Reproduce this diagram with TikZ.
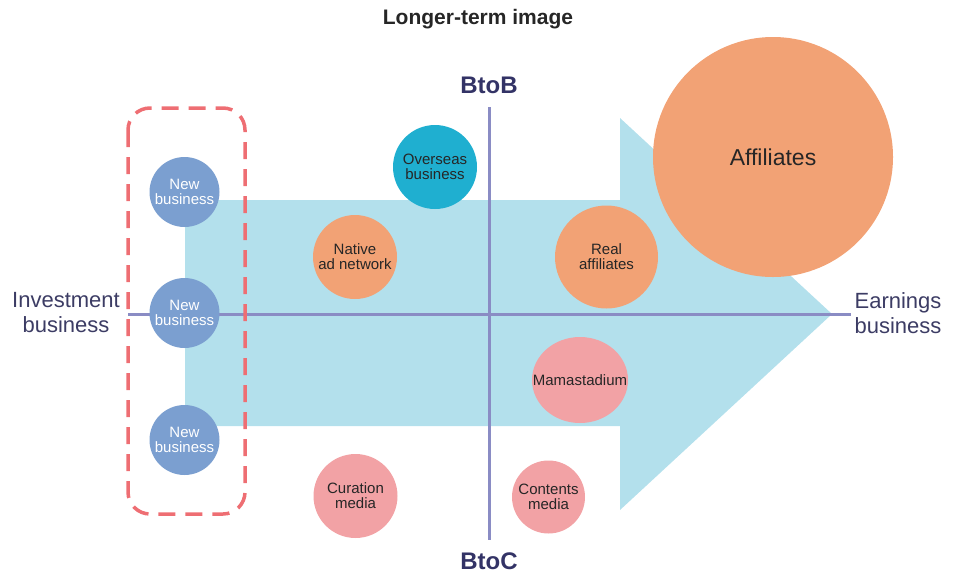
\documentclass[tikz,border=0pt]{standalone}
\usepackage{fontspec}
\setmainfont{Liberation Sans}
\usetikzlibrary{shapes.geometric}
\definecolor{arrowblue}{HTML}{B3E0EC}
\definecolor{axiscol}{HTML}{8A8CC4}
\definecolor{newblue}{HTML}{7B9FD0}
\definecolor{teal}{HTML}{1FAFD0}
\definecolor{orange}{HTML}{F2A275}
\definecolor{pink}{HTML}{F2A2A5}
\definecolor{dashred}{HTML}{EE6E73}
\definecolor{labelcol}{HTML}{3C3C64}
\definecolor{headcol}{HTML}{333366}
\tikzset{
  bubble/.style={circle, inner sep=0pt, align=center, font=\fontsize{15}{15}\selectfont, text=black!85},
  newbiz/.style={bubble, fill=newblue, minimum size=70pt, text=white},
  sidelabel/.style={align=center, font=\fontsize{22}{25}\selectfont, text=labelcol},
  axislabel/.style={font=\fontsize{24}{25}\selectfont\bfseries, text=headcol},
  axisline/.style={draw=axiscol, line width=3pt}
}
\begin{document}
\begin{tikzpicture}[x=1pt,y=-1pt]
\useasboundingbox (0,0) rectangle (958,574);
% big arrow
\fill[arrowblue] (185,200) -- (620,200) -- (620,118) -- (832,314) -- (620,510) -- (620,426) -- (185,426) -- cycle;
% axes
\coordinate (hl) at (128,314);
\coordinate (hr) at (851,314);
\coordinate (vt) at (489,107);
\coordinate (vb) at (489,540);
\draw[axisline] (hl) -- (hr);
\draw[axisline] (vt) -- (vb);
% labels
\node[font=\fontsize{21}{22}\selectfont\bfseries, text=black!85] (title) at (478,19) {Longer-term image};
\node[axislabel] (btob) at (489,85) {BtoB};
\node[axislabel] (btoc) at (489,561) {BtoC};
\node[sidelabel] (inv) at (66,313) {Investment\\business};
\node[sidelabel] (earn) at (898,313) {Earnings\\business};
% new business bubbles
\node[newbiz] (nb1) at (184.5,192) {New\\business};
\node[newbiz] (nb2) at (184.5,313) {New\\business};
\node[newbiz] (nb3) at (184.5,440) {New\\business};
% dashed frame
\draw[dashred, line width=3.5pt, dash pattern=on 17pt off 10pt, rounded corners=22pt] (128,108) rectangle (245,514);
% other bubbles
\node[bubble, fill=teal, minimum size=84pt] (ovs) at (435,167) {Overseas\\business};
\node[bubble, fill=orange, minimum size=84pt] (nat) at (355,257) {Native\\ad network};
\node[bubble, fill=orange, minimum size=103pt] (real) at (606.5,257) {Real\\affiliates};
\node[bubble, fill=orange, minimum size=240pt] (aff) at (773,157) {\makebox[0pt]{\fontsize{23}{24}\selectfont Affiliates}};
\node[ellipse, fill=pink, minimum width=96pt, minimum height=86pt, inner sep=0pt, font=\fontsize{15}{15}\selectfont, text=black!85] (mama) at (580,380) {\makebox[0pt]{Mamastadium}};
\node[bubble, fill=pink, minimum size=73pt] (cont) at (548.5,497) {Contents\\media};
\node[bubble, fill=pink, minimum size=84pt] (cur) at (355.5,496) {Curation\\media};
\end{tikzpicture}
\end{document}
